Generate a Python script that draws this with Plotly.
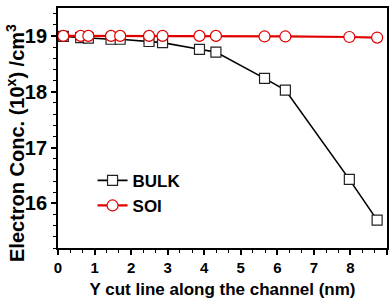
import plotly.graph_objects as go

x_bulk = [0.145, 0.62, 0.83, 1.45, 1.70, 2.49, 2.86, 3.87, 4.32, 5.65, 6.22, 7.97, 8.73]
y_bulk = [18.99, 18.97, 18.96, 18.94, 18.94, 18.90, 18.88, 18.76, 18.71, 18.24, 18.03, 16.43, 15.70]
x_soi = [0.145, 0.62, 0.83, 1.45, 1.70, 2.49, 2.86, 3.87, 4.32, 5.65, 6.22, 7.97, 8.73]
y_soi = [19.0, 19.0, 19.0, 19.0, 19.0, 19.0, 19.0, 19.0, 19.0, 18.99, 18.99, 18.98, 18.97]
x_ticks = [0, 1, 2, 3, 4, 5, 6, 7, 8, 9]
y_ticks = [16, 17, 18, 19]

FONT = "Liberation Sans"

fig = go.Figure()
fig.add_trace(go.Scatter(
    x=x_bulk, y=y_bulk, name="BULK", mode="lines+markers",
    line=dict(color="black", width=1.6),
    marker=dict(symbol="square", size=10, color="white", line=dict(color="#222", width=1.2)),
))
fig.add_trace(go.Scatter(
    x=x_soi, y=y_soi, name="SOI", mode="lines+markers",
    line=dict(color="#e00000", width=2.2),
    marker=dict(symbol="circle", size=11, color="white", line=dict(color="#e00000", width=1.2)),
))

fig.update_layout(
    width=389, height=304,
    margin=dict(l=58, r=2, t=8, b=56),
    plot_bgcolor="white", paper_bgcolor="white",
    showlegend=True,
    legend=dict(
        x=0.105, y=0.355, xanchor="left", yanchor="top",
        bgcolor="rgba(0,0,0,0)",
        font=dict(family=FONT, size=17, color="black", weight="bold"),
    ),
    annotations=[dict(
        text="Electron Conc. (10<sup>x</sup>) /cm<sup>3</sup>",
        xref="paper", yref="paper", x=-58/329 + 15/329, y=0.4375,
        xanchor="center", yanchor="middle", textangle=-90, showarrow=False,
        font=dict(family=FONT, size=20, color="black", weight="bold"),
    )],
)
fig.update_xaxes(
    range=[0, 9], tickvals=x_ticks, ticktext=[str(v) for v in x_ticks],
    showgrid=False, zeroline=False,
    showline=True, linecolor="black", linewidth=1.8, mirror=True,
    ticks="outside", ticklen=5, tickwidth=1.5, tickcolor="black",
    tickfont=dict(family=FONT, size=15, color="black", weight="bold"),
    minor=dict(dtick=1/3, tick0=0, ticks="outside", ticklen=3, tickwidth=1.2, tickcolor="black"),
    title=dict(text="Y cut line along the channel (nm)", standoff=8,
               font=dict(family=FONT, size=17, color="black", weight="bold")),
    automargin=False,
)
fig.update_yaxes(
    range=[15.2, 19.5], tickvals=y_ticks, ticktext=[str(v) for v in y_ticks],
    showgrid=False, zeroline=False,
    showline=True, linecolor="black", linewidth=1.8, mirror=True,
    ticks="outside", ticklen=5, tickwidth=1.5, tickcolor="black",
    tickfont=dict(family=FONT, size=20, color="black", weight="bold"),
    minor=dict(dtick=0.2, tick0=15.2, ticks="outside", ticklen=3, tickwidth=1.2, tickcolor="black"),
    automargin=False,
)

fig.write_html("out.html")
